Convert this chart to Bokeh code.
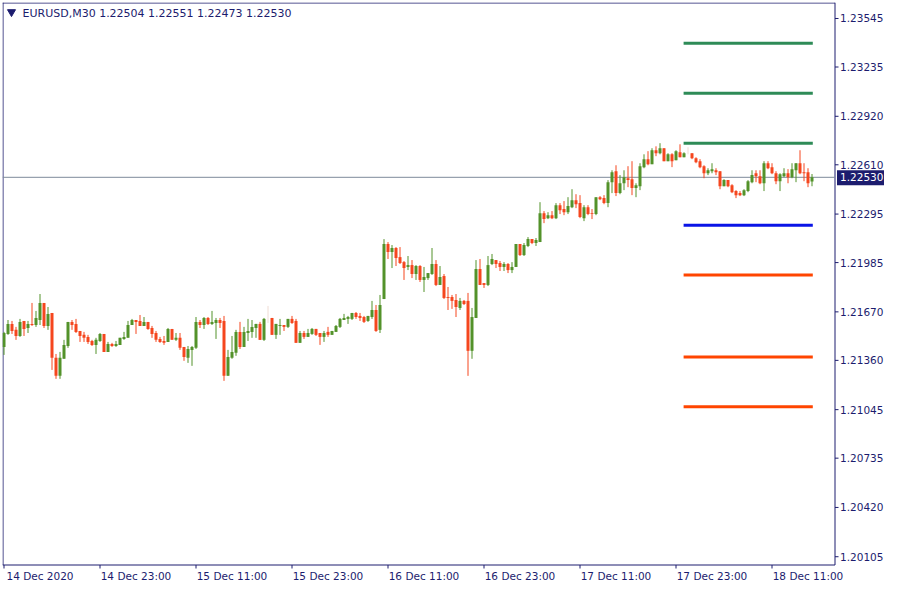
from bokeh.plotting import figure
from bokeh.models import Range1d, FixedTicker, LinearAxis
from bokeh.embed import file_html
from bokeh.resources import INLINE
from bokeh.core.properties import value

# ---------------- data ----------------
symbol = "EURUSD,M30"
time_ticks = [0, 24, 48, 72, 96, 120, 144, 168, 192]
time_labels = ["14 Dec 2020", "14 Dec 23:00", "15 Dec 11:00", "15 Dec 23:00", "16 Dec 11:00",
               "16 Dec 23:00", "17 Dec 11:00", "17 Dec 23:00", "18 Dec 11:00"]
price_ticks = [1.23545, 1.23235, 1.22920, 1.22610, 1.22295, 1.21985, 1.21670,
               1.21360, 1.21045, 1.20735, 1.20420, 1.20105]

open_ = [1.21446, 1.21529, 1.21593, 1.21555, 1.21516, 1.21612, 1.21567, 1.21593, 1.21586, 1.21618,
         1.21727, 1.21580, 1.21663, 1.21376, 1.21261, 1.21370, 1.21452, 1.21606, 1.21593, 1.21548,
         1.21523, 1.21510, 1.21484, 1.21459, 1.21484, 1.21529, 1.21414, 1.21465, 1.21452, 1.21459,
         1.21497, 1.21504, 1.21586, 1.21618, 1.21612, 1.21580, 1.21606, 1.21567, 1.21535, 1.21497,
         1.21484, 1.21478, 1.21561, 1.21491, 1.21504, 1.21446, 1.21376, 1.21427, 1.21440, 1.21606,
         1.21586, 1.21631, 1.21593, 1.21599, 1.21618, 1.21612, 1.21261, 1.21376, 1.21408, 1.21542,
         1.21446, 1.21535, 1.21542, 1.21567, 1.21593, 1.21491, 1.21622, 1.21631, 1.21523, 1.21580,
         1.21586, 1.21574, 1.21625, 1.21612, 1.21472, 1.21535, 1.21510, 1.21529, 1.21561, 1.21535,
         1.21510, 1.21542, 1.21523, 1.21542, 1.21574, 1.21618, 1.21625, 1.21625, 1.21663, 1.21644,
         1.21637, 1.21612, 1.21637, 1.21682, 1.21555, 1.21752, 1.22103, 1.22052, 1.22078, 1.22020,
         1.21988, 1.21957, 1.21969, 1.21912, 1.21963, 1.21874, 1.21886, 1.21912, 1.21976, 1.21842,
         1.21899, 1.21765, 1.21765, 1.21746, 1.21695, 1.21740, 1.21740, 1.21421, 1.21631, 1.21944,
         1.21854, 1.21842, 1.21976, 1.22001, 1.21982, 1.21957, 1.21976, 1.21937, 1.21957, 1.22103,
         1.22033, 1.22091, 1.22135, 1.22110, 1.22116, 1.22301, 1.22269, 1.22288, 1.22269, 1.22352,
         1.22327, 1.22307, 1.22339, 1.22384, 1.22365, 1.22269, 1.22339, 1.22301, 1.22295, 1.22403,
         1.22397, 1.22365, 1.22499, 1.22569, 1.22429, 1.22492, 1.22524, 1.22518, 1.22461, 1.22473,
         1.22595, 1.22646, 1.22614, 1.22703, 1.22684, 1.22716, 1.22633, 1.22677, 1.22639, 1.22690,
         1.22658, 1.22684, 1.22684, 1.22652, 1.22633, 1.22601, 1.22556, 1.22569, 1.22575, 1.22569,
         1.22473, 1.22512, 1.22480, 1.22442, 1.22429, 1.22416, 1.22442, 1.22499, 1.22556, 1.22537,
         1.22492, 1.22620, 1.22595, 1.22556, 1.22505, 1.22537, 1.22556, 1.22531, 1.22575, 1.22620,
         1.22563, 1.22563, 1.22504]
high = [1.21542, 1.21618, 1.21612, 1.21574, 1.21625, 1.21612, 1.21612, 1.21727, 1.21676, 1.21784,
        1.21727, 1.21701, 1.21663, 1.21401, 1.21414, 1.21491, 1.21606, 1.21618, 1.21625, 1.21548,
        1.21542, 1.21523, 1.21491, 1.21504, 1.21535, 1.21529, 1.21478, 1.21472, 1.21484, 1.21504,
        1.21542, 1.21612, 1.21625, 1.21618, 1.21650, 1.21637, 1.21606, 1.21580, 1.21548, 1.21510,
        1.21516, 1.21567, 1.21561, 1.21535, 1.21535, 1.21446, 1.21452, 1.21452, 1.21637, 1.21618,
        1.21637, 1.21637, 1.21676, 1.21631, 1.21631, 1.21644, 1.21427, 1.21516, 1.21555, 1.21606,
        1.21574, 1.21625, 1.21618, 1.21593, 1.21606, 1.21631, 1.21708, 1.21631, 1.21593, 1.21625,
        1.21586, 1.21625, 1.21644, 1.21625, 1.21548, 1.21548, 1.21561, 1.21567, 1.21561, 1.21535,
        1.21548, 1.21574, 1.21548, 1.21586, 1.21631, 1.21657, 1.21644, 1.21663, 1.21669, 1.21663,
        1.21644, 1.21644, 1.21740, 1.21714, 1.21778, 1.22135, 1.22116, 1.22097, 1.22084, 1.22084,
        1.21995, 1.22027, 1.22001, 1.21969, 1.21969, 1.21957, 1.21918, 1.22078, 1.22001, 1.21963,
        1.21912, 1.21829, 1.21778, 1.21784, 1.21759, 1.21746, 1.21791, 1.21695, 1.22001, 1.22008,
        1.21854, 1.22027, 1.22040, 1.22001, 1.21995, 1.21988, 1.21982, 1.21988, 1.22103, 1.22103,
        1.22110, 1.22148, 1.22135, 1.22142, 1.22371, 1.22314, 1.22307, 1.22314, 1.22365, 1.22365,
        1.22378, 1.22403, 1.22454, 1.22422, 1.22416, 1.22352, 1.22352, 1.22327, 1.22403, 1.22410,
        1.22416, 1.22512, 1.22575, 1.22607, 1.22544, 1.22575, 1.22601, 1.22633, 1.22492, 1.22620,
        1.22677, 1.22697, 1.22716, 1.22728, 1.22748, 1.22716, 1.22684, 1.22684, 1.22703, 1.22741,
        1.22690, 1.22722, 1.22684, 1.22658, 1.22646, 1.22607, 1.22588, 1.22620, 1.22588, 1.22569,
        1.22518, 1.22512, 1.22486, 1.22448, 1.22442, 1.22454, 1.22512, 1.22575, 1.22575, 1.22575,
        1.22633, 1.22633, 1.22620, 1.22569, 1.22556, 1.22588, 1.22582, 1.22620, 1.22620, 1.22703,
        1.22620, 1.22588, 1.22551]
low = [1.21395, 1.21523, 1.21529, 1.21491, 1.21510, 1.21516, 1.21535, 1.21580, 1.21574, 1.21586,
       1.21567, 1.21555, 1.21299, 1.21242, 1.21242, 1.21370, 1.21440, 1.21555, 1.21535, 1.21478,
       1.21478, 1.21465, 1.21452, 1.21401, 1.21478, 1.21414, 1.21414, 1.21446, 1.21446, 1.21459,
       1.21491, 1.21504, 1.21586, 1.21529, 1.21580, 1.21580, 1.21555, 1.21504, 1.21478, 1.21472,
       1.21459, 1.21478, 1.21491, 1.21484, 1.21427, 1.21357, 1.21344, 1.21325, 1.21433, 1.21567,
       1.21561, 1.21586, 1.21586, 1.21497, 1.21567, 1.21229, 1.21261, 1.21370, 1.21389, 1.21433,
       1.21446, 1.21484, 1.21504, 1.21504, 1.21491, 1.21484, 1.21599, 1.21523, 1.21497, 1.21523,
       1.21548, 1.21567, 1.21593, 1.21472, 1.21472, 1.21497, 1.21510, 1.21523, 1.21516, 1.21459,
       1.21478, 1.21510, 1.21523, 1.21542, 1.21567, 1.21618, 1.21593, 1.21618, 1.21625, 1.21612,
       1.21599, 1.21606, 1.21625, 1.21542, 1.21535, 1.21752, 1.22008, 1.21950, 1.21963, 1.21976,
       1.21874, 1.21937, 1.21886, 1.21874, 1.21861, 1.21797, 1.21874, 1.21906, 1.21835, 1.21842,
       1.21752, 1.21682, 1.21689, 1.21637, 1.21682, 1.21714, 1.21261, 1.21370, 1.21631, 1.21842,
       1.21823, 1.21835, 1.21969, 1.21950, 1.21931, 1.21931, 1.21918, 1.21918, 1.21957, 1.22027,
       1.22027, 1.22084, 1.22103, 1.22091, 1.22116, 1.22237, 1.22263, 1.22263, 1.22263, 1.22295,
       1.22288, 1.22295, 1.22333, 1.22333, 1.22269, 1.22250, 1.22288, 1.22263, 1.22288, 1.22384,
       1.22358, 1.22339, 1.22429, 1.22410, 1.22422, 1.22448, 1.22467, 1.22416, 1.22403, 1.22448,
       1.22588, 1.22607, 1.22614, 1.22665, 1.22677, 1.22633, 1.22633, 1.22595, 1.22639, 1.22658,
       1.22658, 1.22677, 1.22646, 1.22620, 1.22588, 1.22524, 1.22544, 1.22556, 1.22544, 1.22454,
       1.22473, 1.22467, 1.22429, 1.22397, 1.22410, 1.22410, 1.22435, 1.22492, 1.22499, 1.22486,
       1.22442, 1.22582, 1.22550, 1.22486, 1.22442, 1.22531, 1.22492, 1.22524, 1.22499, 1.22550,
       1.22505, 1.22467, 1.22473]
close = [1.21535, 1.21593, 1.21548, 1.21516, 1.21606, 1.21561, 1.21593, 1.21586, 1.21631, 1.21727,
         1.21580, 1.21657, 1.21376, 1.21261, 1.21376, 1.21459, 1.21606, 1.21586, 1.21542, 1.21516,
         1.21504, 1.21478, 1.21459, 1.21491, 1.21529, 1.21414, 1.21465, 1.21452, 1.21465, 1.21504,
         1.21510, 1.21586, 1.21618, 1.21606, 1.21580, 1.21606, 1.21561, 1.21529, 1.21491, 1.21478,
         1.21472, 1.21561, 1.21491, 1.21504, 1.21440, 1.21382, 1.21433, 1.21446, 1.21606, 1.21586,
         1.21631, 1.21593, 1.21606, 1.21618, 1.21599, 1.21261, 1.21382, 1.21414, 1.21542, 1.21446,
         1.21542, 1.21548, 1.21574, 1.21593, 1.21491, 1.21625, 1.21622, 1.21523, 1.21593, 1.21586,
         1.21574, 1.21625, 1.21599, 1.21472, 1.21535, 1.21510, 1.21535, 1.21561, 1.21523, 1.21510,
         1.21535, 1.21523, 1.21548, 1.21580, 1.21625, 1.21631, 1.21637, 1.21663, 1.21637, 1.21631,
         1.21606, 1.21644, 1.21682, 1.21548, 1.21714, 1.22103, 1.22052, 1.22078, 1.22014, 1.21982,
         1.21950, 1.21969, 1.21912, 1.21963, 1.21874, 1.21893, 1.21918, 1.21976, 1.21842, 1.21893,
         1.21759, 1.21759, 1.21740, 1.21701, 1.21740, 1.21720, 1.21421, 1.21637, 1.21944, 1.21842,
         1.21842, 1.21969, 1.22008, 1.21976, 1.21957, 1.21976, 1.21937, 1.21957, 1.22103, 1.22033,
         1.22097, 1.22135, 1.22110, 1.22129, 1.22301, 1.22263, 1.22288, 1.22269, 1.22352, 1.22320,
         1.22307, 1.22346, 1.22384, 1.22358, 1.22276, 1.22339, 1.22295, 1.22295, 1.22403, 1.22390,
         1.22365, 1.22499, 1.22563, 1.22429, 1.22492, 1.22531, 1.22512, 1.22461, 1.22480, 1.22601,
         1.22646, 1.22614, 1.22703, 1.22684, 1.22716, 1.22633, 1.22677, 1.22633, 1.22697, 1.22658,
         1.22684, 1.22684, 1.22652, 1.22626, 1.22595, 1.22556, 1.22575, 1.22582, 1.22563, 1.22473,
         1.22512, 1.22473, 1.22435, 1.22416, 1.22416, 1.22448, 1.22505, 1.22544, 1.22537, 1.22492,
         1.22620, 1.22588, 1.22556, 1.22505, 1.22550, 1.22556, 1.22531, 1.22582, 1.22620, 1.22556,
         1.22556, 1.22492, 1.22530]

resistance_levels = [1.23386, 1.23067, 1.22748]
pivot_levels = [1.22224]
support_levels = [1.21906, 1.21382, 1.21063]
level_span_bars = [169.9, 202.2]

# ---------------- layout / styling ----------------
NAVY = "#1c1c6e"
BULL = "#53922a"
BEAR = "#f5461e"
DOJI = "#efdcd4"
FONT = "DejaVu Sans"
AXIS_FONT_SIZE = "10.5px"

W, H = 884, 584
FRAME_L, FRAME_T = 2, 2
LABEL_PANEL = 15          # space below the frame for the time labels
AXIS_LINE_Y = 565.5       # screen y of the drawn time-axis line
AXIS_LINE_X = 834.5       # screen x of the drawn price-axis line
PX_PER_BAR = 4.0
BAR0_PX = 3.5             # screen x of bar 0
PRICE_AT_PX0 = 1.23660    # price at screen y = 0
PRICE_PER_PX = 0.0000638


def bx(px):   # screen x -> bar coordinate
    return (px - BAR0_PX) / PX_PER_BAR


def py(sy):   # screen y -> price coordinate
    return PRICE_AT_PX0 - PRICE_PER_PX * sy


frame_bottom_px = H - LABEL_PANEL
x_start, x_end = bx(FRAME_L), bx(W)
y_top, y_bottom = py(FRAME_T), py(frame_bottom_px)
axis_x = bx(AXIS_LINE_X)
axis_y = py(AXIS_LINE_Y)

p = figure(width=W, height=H, output_backend="svg", toolbar_location=None,
           x_range=Range1d(x_start, x_end), y_range=Range1d(y_bottom, y_top),
           x_axis_location=None, y_axis_location=None,
           min_border_left=FRAME_L, min_border_top=FRAME_T, min_border_right=0,
           min_border_bottom=LABEL_PANEL)
p.background_fill_color = "white"
p.border_fill_color = "white"
p.outline_line_color = None
p.xgrid.visible = False
p.ygrid.visible = False

# time labels: an axis without line or ticks; labels shifted so they start at their tick
label_shift = 9
label_pos = [t + label_shift for t in time_ticks]
label_axis = LinearAxis(ticker=FixedTicker(ticks=label_pos), axis_line_color=None,
                        major_tick_line_color=None, major_tick_in=0, major_tick_out=0,
                        minor_tick_line_color=None, major_label_standoff=1,
                        major_label_overrides={t: lab for t, lab in zip(label_pos, time_labels)},
                        major_label_text_color=NAVY, major_label_text_font=FONT,
                        major_label_text_font_size=AXIS_FONT_SIZE)
p.add_layout(label_axis, "below")

# frame lines (left, top), time-axis line and price-axis line
p.segment(x0=[bx(FRAME_L + 0.5)], x1=[bx(FRAME_L + 0.5)], y0=[axis_y], y1=[y_top], line_color=NAVY, line_width=1)
p.segment(x0=[x_start], x1=[axis_x], y0=[py(FRAME_T + 0.5)], y1=[py(FRAME_T + 0.5)], line_color=NAVY, line_width=1)
p.segment(x0=[x_start], x1=[axis_x], y0=[axis_y], y1=[axis_y], line_color=NAVY, line_width=1)
p.segment(x0=[axis_x], x1=[axis_x], y0=[axis_y], y1=[y_top], line_color=NAVY, line_width=1)

# time-axis tick marks
m = len(time_ticks)
p.segment(x0=time_ticks, x1=time_ticks, y0=[axis_y] * m, y1=[py(AXIS_LINE_Y + 4)] * m,
          line_color=NAVY, line_width=1)

# price-axis ticks and labels
n = len(price_ticks)
p.segment(x0=[axis_x] * n, x1=[bx(838)] * n, y0=price_ticks, y1=price_ticks, line_color=NAVY, line_width=1)
p.text(x=[bx(839.5)] * n, y=price_ticks, text=[f"{v:.5f}" for v in price_ticks],
       text_font=value(FONT), text_font_size=AXIS_FONT_SIZE, text_color=NAVY,
       text_baseline="middle", text_align="left")

# current price line
last = close[-1]
p.segment(x0=[x_start], x1=[axis_x], y0=[last], y1=[last], line_color="#7d8a9a", line_width=1)

# candles
bars = list(range(len(open_)))
colors = [BULL if c > o else (BEAR if c < o else DOJI) for o, c in zip(open_, close)]
p.segment(x0=bars, y0=high, x1=bars, y1=low, line_color=colors, line_width=1)
p.vbar(x=bars, width=0.75, top=[max(o, c) for o, c in zip(open_, close)],
       bottom=[min(o, c) for o, c in zip(open_, close)], fill_color=colors, line_color=None)

# levels
for levels, col in ((resistance_levels, "#2e8b57"), (pivot_levels, "#0a14e6"), (support_levels, "#ff4500")):
    k = len(levels)
    p.segment(x0=[level_span_bars[0]] * k, x1=[level_span_bars[1]] * k, y0=levels, y1=levels,
              line_color=col, line_width=3)

# price badge
p.quad(left=[bx(836.5)], right=[x_end + 5], top=[py(170)], bottom=[py(185)],
       fill_color=NAVY, line_color=None)
p.text(x=[bx(839.5)], y=[last], text=[f"{last:.5f}"], text_font=value(FONT), text_font_size=AXIS_FONT_SIZE,
       text_color="white", text_baseline="middle", text_align="left")

# header
p.scatter(x=[bx(11)], y=[py(11.5)], marker="inverted_triangle", size=8, color=NAVY)
header = f"{symbol}  {open_[-1]:.5f} {high[-1]:.5f} {low[-1]:.5f} {close[-1]:.5f}"
p.text(x=[bx(22)], y=[py(13)], text=[header], text_font=value(FONT), text_font_size="11px",
       text_color=NAVY, text_baseline="middle", text_align="left")

open("out.html", "w").write(file_html(p, INLINE))
